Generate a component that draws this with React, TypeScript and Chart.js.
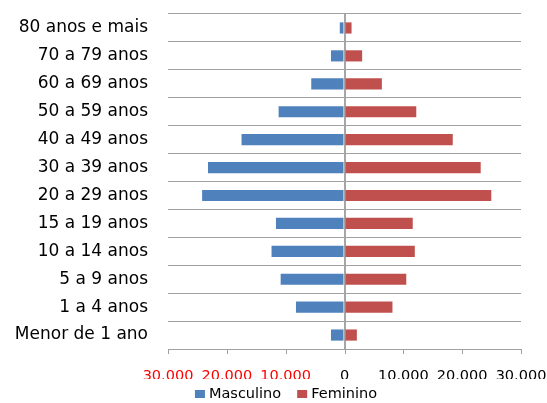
import React, { useEffect, useRef } from "react";
import { Chart, registerables } from "chart.js";

Chart.register(...registerables);

const categories = [
  "80 anos e mais",
  "70 a 79 anos",
  "60 a 69 anos",
  "50 a 59 anos",
  "40 a 49 anos",
  "30 a 39 anos",
  "20 a 29 anos",
  "15 a 19 anos",
  "10 a 14 anos",
  "5 a 9 anos",
  "1 a 4 anos",
  "Menor de 1 ano",
];

const masculino = [-800, -2300, -5650, -11200, -17500, -23200, -24200, -11650, -12400, -10850, -8250, -2300];
const feminino = [1200, 3000, 6350, 12200, 18400, 23150, 24950, 11600, 11950, 10500, 8150, 2100];

const xMin = -30000;
const xMax = 30000;
const xStep = 10000;

const FONT = "'DejaVu Sans', 'Open Sans', sans-serif";

function fmt(v: number): string {
  const a = Math.abs(Math.round(v));
  return a.toString().replace(/\B(?=(\d{3})+(?!\d))/g, ".");
}

const extras = {
  id: "extras",
  afterDraw(chart: any) {
    const ctx = chart.ctx;
    // short tick marks under the x axis
    const xs = chart.scales.x;
    ctx.save();
    ctx.strokeStyle = "#A0A0A0";
    ctx.lineWidth = 1;
    xs.ticks.forEach((t: any) => {
      const px = Math.round(xs.getPixelForValue(t.value)) + 0.5;
      ctx.beginPath();
      ctx.moveTo(px, xs.top);
      ctx.lineTo(px, xs.top + 5);
      ctx.stroke();
    });
    ctx.restore();

    // legend
    const sets = chart.data.datasets;
    const boxW = 10;
    const boxH = 8;
    const gapBoxText = 4;
    const gapItems = 16;
    const centerX = 286;
    const centerY = 394;
    ctx.save();
    ctx.font = `14.5px ${FONT}`;
    ctx.textBaseline = "middle";
    ctx.textAlign = "left";
    const widths = sets.map((d: any) => boxW + gapBoxText + ctx.measureText(d.label).width);
    const total = widths.reduce((a: number, b: number) => a + b, 0) + gapItems * (sets.length - 1);
    let x = centerX - total / 2;
    sets.forEach((d: any, i: number) => {
      ctx.fillStyle = d.backgroundColor;
      ctx.fillRect(x, centerY - boxH / 2, boxW, boxH);
      ctx.fillStyle = "#000";
      ctx.fillText(d.label, x + boxW + gapBoxText, centerY);
      x += widths[i] + gapItems;
    });
    ctx.restore();
  },
};

export default function App() {
  const ref = useRef<HTMLCanvasElement | null>(null);

  useEffect(() => {
    if (!ref.current) return;
    const chart = new Chart(ref.current, {
      type: "bar",
      data: {
        labels: categories,
        datasets: [
          {
            label: "Masculino",
            data: masculino,
            backgroundColor: "#4F81BD",
            barPercentage: 0.4,
            categoryPercentage: 1,
          },
          {
            label: "Feminino",
            data: feminino,
            backgroundColor: "#C0504D",
            barPercentage: 0.4,
            categoryPercentage: 1,
          },
        ],
      },
      plugins: [extras],
      options: {
        indexAxis: "y",
        animation: false,
        responsive: false,
        maintainAspectRatio: false,
        layout: { padding: { left: 0, right: 26, top: 14, bottom: 24 } },
        plugins: {
          tooltip: { enabled: false },
          legend: { display: false },
        },
        scales: {
          x: {
            stacked: true,
            min: xMin,
            max: xMax,
            ticks: {
              stepSize: xStep,
              callback: (v: any) => fmt(Number(v)),
              color: (ctx: any) => (ctx.tick && ctx.tick.value < 0 ? "#FF0000" : "#000000"),
              font: { family: FONT, size: 14.5 },
              padding: 10,
              maxRotation: 0,
            },
            grid: {
              color: (ctx: any) => (ctx.tick && ctx.tick.value === 0 ? "#A6A6A6" : "transparent"),
              lineWidth: 2,
              tickColor: "transparent",
              tickWidth: 1,
              tickLength: 9,
            },
            border: { display: true, color: "#A0A0A0" },
            afterFit: (s: any) => {
              s.height = 30;
              s.paddingLeft = 0;
              s.paddingRight = 0;
            },
          },
          y: {
            stacked: true,
            ticks: {
              color: "#000",
              font: { family: FONT, size: 17 },
              padding: 20,
            },
            grid: {
              offset: true,
              color: "#A0A0A0",
              drawTicks: false,
            },
            border: { display: false },
            afterFit: (s: any) => {
              s.width = 168;
              s.paddingTop = 0;
              s.paddingBottom = 0;
            },
          },
        },
      },
    });
    return () => chart.destroy();
  }, []);

  return (
    <div style={{ position: "fixed", left: 0, top: 0, width: 547, height: 403, background: "#fff" }}>
      <canvas ref={ref} width={547} height={403} style={{ width: 547, height: 403 }} />
    </div>
  );
}
